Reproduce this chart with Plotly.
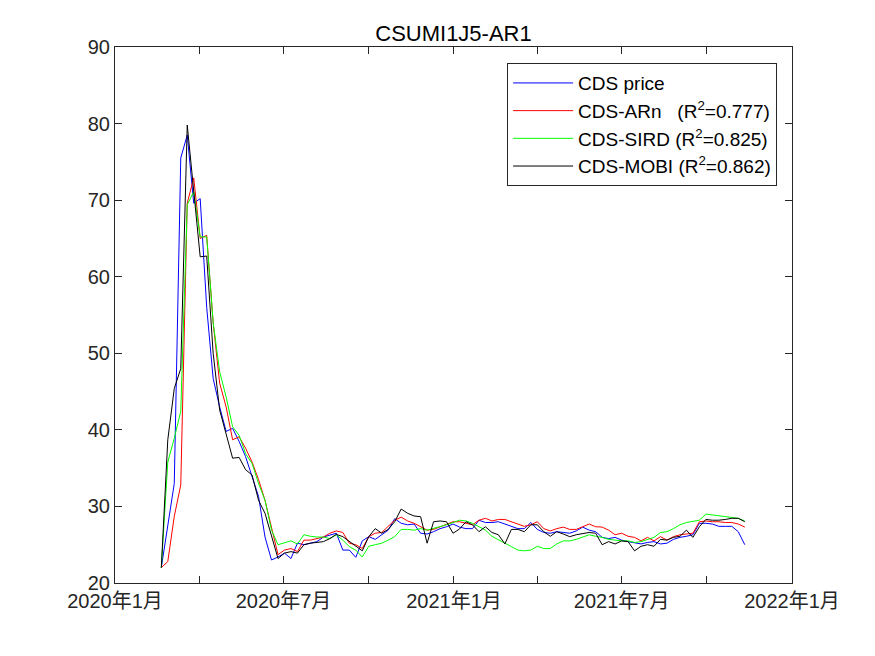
import plotly.graph_objects as go
import pandas as pd

# weekly series, first obs 2020-02-20
start_date = "2020-02-20"

cds_price = [22.0, 27.6, 33.0, 75.5, 78.5, 69.6, 70.2, 56.0, 46.7, 43.0,
             39.8, 40.2, 38.5, 36.5, 33.9, 31.3, 26.0, 23.0, 23.4, 23.9,
             23.2, 25.2, 25.0, 25.2, 25.4, 26.0, 26.3, 26.5, 24.3, 24.3,
             23.35, 25.5, 26.05, 25.7, 26.3, 26.9, 28.4, 27.8, 27.6, 27.7,
             26.5, 26.4, 26.7, 27.1, 27.35, 27.7, 27.3, 27.1, 27.1, 28.2,
             27.9, 27.9, 28.0, 27.7, 27.4, 27.1, 27.1, 27.9, 27.0, 26.6,
             26.5, 26.7, 26.6, 26.5, 26.8, 27.3, 26.9, 26.7, 25.96, 25.8,
             25.96, 25.6, 25.4, 25.2, 25.1, 25.3, 25.4, 25.1, 25.2, 25.7,
             25.96, 26.1, 26.3, 27.8, 27.8, 27.7, 27.4, 27.4, 27.4, 26.7,
             25.0]

cds_arn = [22.0, 22.8, 28.7, 32.8, 69.6, 72.9, 65.0, 65.4, 54.0, 46.1,
           43.0, 38.7, 39.1, 37.6, 35.8, 33.5, 30.8, 27.4, 23.7, 24.3,
           24.5, 24.1, 25.6, 25.6, 25.8, 26.0, 26.5, 26.8, 26.6, 25.2,
           25.0, 24.5, 26.05, 26.5, 26.6, 27.4, 28.2, 28.6, 28.1, 27.8,
           27.35, 26.9, 27.0, 27.35, 27.7, 28.0, 28.0, 27.8, 27.6, 28.2,
           28.45, 28.1, 28.3, 28.3, 28.0, 27.7, 27.4, 27.6, 28.0, 27.1,
           26.8, 27.1, 27.3, 27.0, 27.0, 27.35, 27.7, 27.35, 27.3, 26.9,
           26.3, 26.5, 26.1, 25.96, 25.5, 25.96, 25.5, 26.05, 25.6, 26.05,
           26.3, 26.4, 26.5, 28.0, 28.1, 28.0, 28.0, 27.9, 27.9, 27.7,
           27.3]

cds_sird = [22.0, 35.8, 38.9, 42.4, 69.4, 71.1, 65.2, 65.2, 54.0, 47.6,
            44.3, 40.4, 39.3, 36.9, 35.6, 33.0, 30.8, 26.9, 25.0, 25.3,
            25.5, 25.1, 26.3, 26.1, 26.0, 26.0, 25.8, 26.3, 25.6, 24.75,
            24.3, 23.4, 24.8, 25.0, 25.2, 25.6, 26.05, 27.0, 27.0, 26.9,
            27.1, 26.9, 27.1, 27.4, 27.6, 27.9, 28.2, 28.1, 27.8, 27.35,
            26.9, 26.1, 25.6, 25.2, 24.75, 24.3, 24.2, 24.3, 24.8, 24.5,
            24.5, 25.1, 25.5, 25.5, 25.7, 25.96, 26.3, 26.1, 25.96, 25.7,
            25.6, 25.5, 25.5, 25.3, 25.4, 25.7, 25.96, 26.6, 26.7, 27.1,
            27.6, 27.9, 28.1, 28.2, 29.0, 28.9, 28.75, 28.66, 28.6, 28.45,
            28.1]

cds_mobi = [22.0, 38.7, 45.4, 48.0, 79.8, 71.0, 62.6, 62.7, 50.0, 42.6,
            39.6, 36.3, 36.4, 34.8, 34.1, 30.8, 29.1, 26.0, 23.2, 23.9,
            24.1, 23.9, 25.0, 25.2, 25.3, 25.4, 25.8, 26.35, 26.05, 25.4,
            24.75, 24.2, 26.05, 27.1, 26.5, 27.0, 28.0, 29.66, 29.1, 28.75,
            28.66, 25.2, 28.0, 28.1, 28.0, 26.5, 27.05, 28.0, 27.6, 26.7,
            27.35, 26.6, 26.3, 25.1, 27.0, 27.0, 26.7, 27.6, 27.6, 26.7,
            26.1, 26.7, 26.4, 26.05, 26.3, 26.5, 26.6, 26.5, 25.0, 25.4,
            25.1, 25.5, 25.4, 24.2, 24.8, 25.0, 24.8, 25.7, 25.6, 25.96,
            26.1, 26.9, 25.96, 27.35, 28.3, 28.2, 28.2, 28.3, 28.45, 28.45,
            28.0]

series_names = ["CDS price",
                "CDS-ARn\u00a0\u00a0\u00a0(R<sup>2</sup>=0.777)",
                "CDS-SIRD (R<sup>2</sup>=0.825)",
                "CDS-MOBI (R<sup>2</sup>=0.862)"]
series_colors = ["#0000ff", "#ff0000", "#00ff00", "#000000"]

tick_dates = ["2020-01-01", "2020-04-01", "2020-07-01", "2020-10-01", "2021-01-01",
              "2021-04-01", "2021-07-01", "2021-10-01", "2022-01-01"]
tick_text = ["2020年1月", "", "2020年7月", "", "2021年1月",
             "", "2021年7月", "", "2022年1月"]

dates = pd.date_range(start_date, periods=len(cds_price), freq="7D")

fig = go.Figure()
for vals, name, col in zip([cds_price, cds_arn, cds_sird, cds_mobi], series_names, series_colors):
    fig.add_trace(go.Scatter(x=dates, y=vals, mode="lines", name=name,
                             line=dict(color=col, width=1)))

axis_col = "#262626"
font_main = "Liberation Sans, Arial, Noto Sans CJK SC, sans-serif"

# page body adds 8px, so margins are shifted to keep the reference axes box
fig.update_layout(
    width=875, height=656,
    margin=dict(l=107, r=91, t=39, b=81),
    paper_bgcolor="white", plot_bgcolor="white",
    font=dict(family=font_main, size=20, color=axis_col),
    title=dict(text="CSUMI1J5-AR1", x=0.5, xanchor="center", xref="paper",
               y=1 - 25 / 656, yanchor="middle",
               font=dict(size=22, color="black")),
    legend=dict(x=0.978, xanchor="right", y=0.970, yanchor="top",
                bgcolor="white", bordercolor="#262626", borderwidth=1,
                font=dict(size=19, color="black"), itemwidth=60,
                tracegroupgap=0),
    showlegend=True,
)

fig.update_xaxes(range=["2020-01-01", "2022-01-01"], tickmode="array",
                 tickvals=tick_dates, ticktext=tick_text,
                 ticks="inside", ticklen=7, tickcolor=axis_col,
                 showline=True, linecolor=axis_col, linewidth=1, mirror="ticks",
                 showgrid=False, zeroline=False)
fig.update_yaxes(range=[20, 90], tickvals=[20, 30, 40, 50, 60, 70, 80, 90],
                 ticks="inside", ticklen=7, tickcolor=axis_col,
                 showline=True, linecolor=axis_col, linewidth=1, mirror="ticks",
                 showgrid=False, zeroline=False)

fig.write_html("out.html")
